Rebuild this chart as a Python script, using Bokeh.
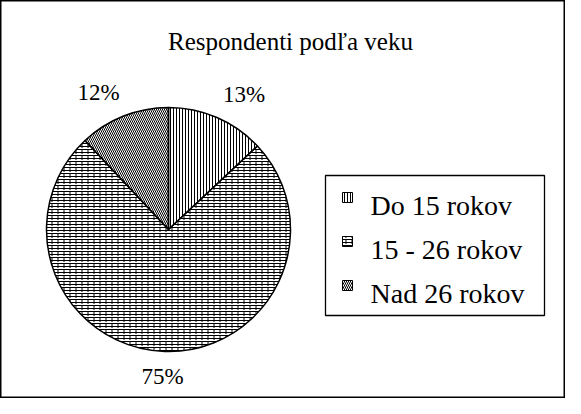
import numpy as np
from bokeh.plotting import figure
from bokeh.models import ColumnDataSource, Range1d
from bokeh.embed import file_html
from bokeh.resources import INLINE
from bokeh.core.properties import value

# ---- data ----
title_text = "Respondenti podľa veku"
categories = ["Do 15 rokov", "15 - 26 rokov", "Nad 26 rokov"]
shares = [13, 75, 12]
pct_labels = ["13%", "75%", "12%"]
# base hatch and overlay hatch per category (brick = horizontal lines + staggered dashes)
patterns = ["vertical_line", "horizontal_line", "left_diagonal_line"]
pattern_scales = [3, 3, 4]
overlay_patterns = [" ", "vertical_dash", " "]
overlay_scales = [6, 6, 6]

# ---- layout (pixel units: ranges equal figure size) ----
W, H = 565, 398
FONT = "Liberation Serif"
CX, CY, R = 168, 169, 122          # pie centre and radius
LAB_RX, LAB_RY = 190, 147          # label placement ellipse

p = figure(width=W, height=H, output_backend="svg", toolbar_location=None,
           x_range=Range1d(0, W), y_range=Range1d(0, H), min_border=0,
           x_axis_location=None, y_axis_location=None)
p.grid.visible = False
p.outline_line_color = "black"
p.outline_line_width = 2
p.background_fill_color = "white"
p.border_fill_color = "white"

frac = np.array(shares, dtype=float) / sum(shares)
cum_end = np.cumsum(frac)
cum_start = np.r_[0.0, cum_end[:-1]]
start_angle = np.pi / 2 - cum_end * 2 * np.pi
end_angle = np.pi / 2 - cum_start * 2 * np.pi
mid = (start_angle + end_angle) / 2

src = ColumnDataSource(dict(
    start=start_angle, end=end_angle, pattern=patterns, hscale=pattern_scales,
    opattern=overlay_patterns, oscale=overlay_scales,
    lx=CX + LAB_RX * np.cos(mid), ly=CY + LAB_RY * np.sin(mid), lab=pct_labels,
))

p.wedge(x=CX, y=CY, radius=R, start_angle="start", end_angle="end", source=src,
        fill_color="white", line_color=None,
        hatch_pattern="pattern", hatch_scale="hscale", hatch_color="black",
        hatch_weight=1)
p.wedge(x=CX, y=CY, radius=R, start_angle="start", end_angle="end", source=src,
        fill_color=None, line_color="black", line_width=1.5,
        hatch_pattern="opattern", hatch_scale="oscale", hatch_color="black",
        hatch_weight=1)

p.text(x="lx", y="ly", text="lab", source=src, text_font=value(FONT),
       text_font_size="23px", text_align="center", text_baseline="middle",
       text_color="black")

# title
p.text(x=[290], y=[357], text=[title_text], text_font=value(FONT),
       text_font_size="25px", text_align="center", text_baseline="alphabetic",
       text_color="black")

# legend
LEG_X0, LEG_Y0, LEG_W, LEG_H = 325, 83, 219, 140
ROW_TOP, ROW_STEP = 193, 44
rows = np.arange(len(categories))
leg = ColumnDataSource(dict(
    sy=ROW_TOP + 8 - rows * ROW_STEP, ty=ROW_TOP - rows * ROW_STEP,
    name=categories, pattern=patterns, hscale=pattern_scales,
    opattern=overlay_patterns, oscale=overlay_scales,
))
p.rect(x=LEG_X0 + LEG_W / 2, y=LEG_Y0 + LEG_H / 2, width=LEG_W, height=LEG_H,
       fill_color="white", line_color="black", line_width=1.3)
p.rect(x=347, y="sy", width=10, height=10, source=leg, fill_color="white",
       line_color=None, hatch_pattern="pattern",
       hatch_scale="hscale", hatch_color="black", hatch_weight=1)
p.rect(x=347, y="sy", width=10, height=10, source=leg, fill_color=None,
       line_color="black", line_width=1, hatch_pattern="opattern",
       hatch_scale="oscale", hatch_color="black", hatch_weight=1)
p.text(x=370, y="ty", text="name", source=leg, text_font=value(FONT),
       text_font_size="28px", text_align="left", text_baseline="alphabetic",
       text_color="black")

open("out.html", "w").write(file_html(p, INLINE))
